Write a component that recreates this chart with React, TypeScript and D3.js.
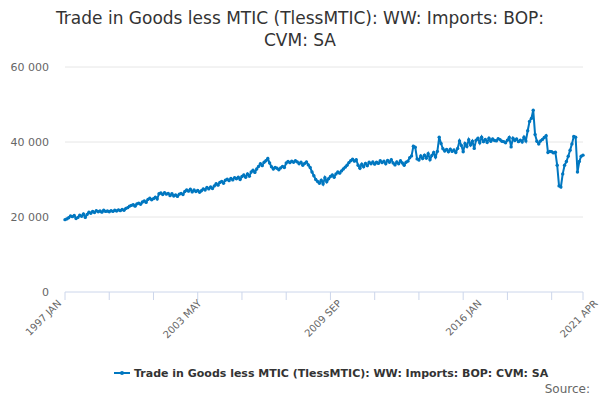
import React from "react";
import * as d3 from "d3";

const title = ["Trade in Goods less MTIC (TlessMTIC): WW: Imports: BOP:", "CVM: SA"];
const seriesName = "Trade in Goods less MTIC (TlessMTIC): WW: Imports: BOP: CVM: SA";
// monthly values, Jan 1997 - Apr 2021 (GBP m)
const values = [
  19300, 19500, 19800, 20300, 20100, 20400, 19600, 19900, 20500, 20200, 20800, 19900,
  20700, 21300, 21000, 21500, 21200, 21700, 21400, 21600, 21300, 21800, 21500, 21600,
  21400, 21700, 21500, 21800, 21600, 21900, 21700, 22000, 21800, 22300, 22500, 22900,
  23100, 23300, 22900, 23500, 23700, 23400, 24000, 24300, 23900, 24700, 25000, 24600,
  24900, 25300, 24800, 26200, 26400, 26000, 26500, 26100, 26300, 25700, 26200, 25600,
  25900, 25500, 26100, 26300, 26000, 26800, 27200, 26900, 27400, 26700, 27200, 26800,
  27100, 26600, 27000, 27500, 27200, 27900, 27500, 28000, 27600, 28300, 28900, 28500,
  29200, 29500, 29000, 29800, 30100, 29700, 30300, 29900, 30500, 30200, 30600, 30000,
  30800, 31200, 30600, 31500, 30900, 32000, 32500, 31900, 32800, 33500, 34200, 33700,
  34600, 35000, 35600, 34400, 33400, 32800, 33200, 33000, 32600, 33100, 33500, 33200,
  34400, 34800, 34500, 34900, 34600, 35000, 34700, 34200, 34600, 33800, 34300, 34700,
  33900, 33200, 32000, 31000, 30000, 29500, 29000, 29800, 28800, 30500, 29400, 30200,
  30800, 31200, 30600, 31500, 32000, 31700, 32300, 32800, 33300, 33800, 34500, 35000,
  35400, 34900, 35300, 33800, 33000, 34100, 33400, 34300, 33700, 34600, 34200, 34700,
  34100, 34600, 34300, 35000, 34500, 34900, 34200, 35100, 34600, 35300, 34400, 33900,
  34700, 34200, 35000, 34400, 33800, 34600, 34900, 35800, 36300, 38900, 38600, 35500,
  35200, 36300, 35600, 36500, 35700, 36900, 35300, 36400, 37200, 36000, 37500, 41300,
  39600, 38200, 37600, 38000, 37400, 38100, 37500, 37900, 37200, 38300, 40300, 39100,
  37400, 39600, 38800, 40600, 39200, 40200, 38300, 40500, 41000, 39800, 41300, 40100,
  40700, 39900, 41000, 40200, 40800, 40400, 40300, 40900, 40600, 40200, 40100, 39800,
  40500, 41200, 38700, 41000, 40400, 40800, 40100, 40500, 40000, 41300, 40300, 43000,
  45500, 46300, 48500, 42000, 40200, 39500, 40300, 40700, 41200, 41700, 37200, 37500,
  37400, 37100, 37300, 33800, 28300, 28000, 31500, 33800, 34800, 36200, 37800, 39500,
  41500, 41300, 32000, 34800, 36200, 36500,
];
const yTicks = [0, 20000, 40000, 60000];
const xLabels = ["1997 JAN", "2003 MAY", "2009 SEP", "2016 JAN", "2021 APR"];
const xLabelIdx = [0, 76, 152, 228, 291];

const W = 600, H = 400;
const m = { l: 65, r: 17, t: 67, b: 108 };

export default function App() {
  const x = d3.scaleLinear().domain([0, values.length - 1]).range([m.l, W - m.r]);
  const y = d3.scaleLinear().domain([0, 60000]).range([H - m.b, m.t]);
  const line = d3.line<number>().x((_, i) => x(i)).y((d) => y(d));
  const fmt = (v: number) => d3.format(",")(v).replace(/,/g, " ");
  const minor = d3.range(0, values.length, 24);
  const font = "'DejaVu Sans', sans-serif";
  return (
    <svg width={W} height={H} style={{ position: "absolute", left: 0, top: 0 }} fontFamily={font}>
      {title.map((t, i) => (
        <text key={i} x={W / 2} y={24 + i * 22} textAnchor="middle" fontSize={17} fill="#333">{t}</text>
      ))}
      {yTicks.map((t) => (
        <g key={t}>
          {t > 0 && <line x1={m.l} x2={W - m.r} y1={y(t)} y2={y(t)} stroke="#e6e6e6" />}
          <text x={m.l - 16} y={y(t) + 4} textAnchor="end" fontSize={11} fill="#666">{fmt(t)}</text>
        </g>
      ))}
      <line x1={m.l} x2={W - m.r} y1={y(0)} y2={y(0)} stroke="#ccd6eb" />
      {minor.map((i) => (
        <line key={i} x1={x(i)} x2={x(i)} y1={y(0)} y2={y(0) + 8} stroke="#ccd6eb" />
      ))}
      <line x1={W - m.r} x2={W - m.r} y1={y(0)} y2={y(0) + 8} stroke="#ccd6eb" />
      {xLabels.map((l, k) => (
        <text key={l} fontSize={10} fill="#666" textAnchor="end"
          transform={`translate(${x(xLabelIdx[k]) - 3},${y(0) + 12}) rotate(-45)`}>{l}</text>
      ))}
      <path d={line(values) || ""} fill="none" stroke="#0077c0" strokeWidth={2} />
      {values.map((v, i) => (
        <circle key={i} cx={x(i)} cy={y(v)} r={1.7} fill="#0077c0" />
      ))}
      <g transform="translate(114,373)">
        <line x1={0} x2={16} y1={0} y2={0} stroke="#0077c0" strokeWidth={2} />
        <circle cx={8} cy={0} r={2} fill="#0077c0" />
        <text x={20} y={4} fontSize={11} fontWeight="bold" fill="#333">{seriesName}</text>
      </g>
      <text x={W - 10} y={393} textAnchor="end" fontSize={12} fill="#666">Source:</text>
    </svg>
  );
}
